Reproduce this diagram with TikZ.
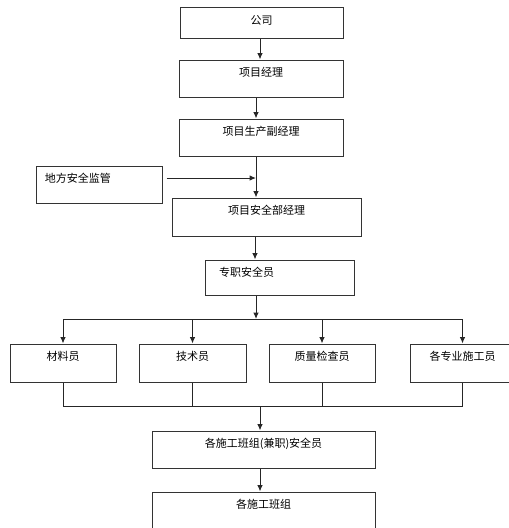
\documentclass[tikz,border=0pt]{standalone}
\usepackage{fontspec}
\setmainfont{Noto Sans CJK SC}
\usetikzlibrary{arrows.meta,calc}
\tikzset{
    unit/.style={draw=black!80, line width=1pt, inner sep=0pt, text height=16pt, text depth=21pt, font=\fontsize{11}{13}\selectfont},
    leftunit/.style={unit, align=left},
}
\begin{document}
\begin{tikzpicture}[x=1pt, y=-1pt, >={Latex[length=6.5pt,width=5.5pt]}, line width=1pt, draw=black!85]
            \useasboundingbox (0,0) rectangle (509,528);
            \node[unit, minimum width=163pt, text height=17pt, text depth=14pt] (company) at (261.5,22.5) {公司};
            \node[unit, minimum width=164pt] (pm) at (261,78.5) {项目经理};
            \node[unit, minimum width=164pt] (dpm) at (261,137.5) {项目生产副经理};
            \node[leftunit, inner xsep=9pt, text width=108pt] (local) at (99,184.5) {地方安全监管};
            \node[unit, minimum width=189pt, text depth=22pt] (safemgr) at (266.5,217) {项目安全部经理};
            \node[leftunit, inner xsep=14pt, text width=121pt, text depth=19pt] (officer) at (279.5,277.5) {专职安全员};
            \node[unit, minimum width=106pt, text depth=22pt] (mat) at (63,363) {材料员};
            \node[unit, minimum width=107pt, text depth=22pt] (tech) at (192.5,363) {技术员};
            \node[unit, minimum width=106pt, text depth=22pt] (qc) at (322,363) {质量检查员};
            \node[unit, minimum width=105pt, text depth=22pt] (trade) at (462.5,363) {各专业施工员};
            \node[unit, minimum width=223pt] (crewsafe) at (263.5,449.5) {各施工班组(兼职)安全员};
            \node[unit, minimum width=223pt] (crew) at (263.5,510.5) {各施工班组};

            \coordinate (merge) at (256,178);
            \coordinate (fork) at (256,319);
            \coordinate (gather) at (260,406);

            \draw[->] (company.south -| 260,0) to (pm.north -| 260,0);
            \draw[->] (pm.south -| 256,0) to (dpm.north -| 256,0);
            \draw[->] (dpm.south -| merge) to (safemgr.north -| merge);
            \draw[->] ($(local.east |- merge)+(4,0)$) to (merge);
            \draw[->] (safemgr.south -| 255,0) to (officer.north -| 255,0);
            \draw[->] (officer.south -| fork) to (fork);
            \draw (fork -| mat) to (fork -| trade);
            \draw[->] (fork -| mat) to (mat);
            \draw[->] (fork -| tech) to (tech);
            \draw[->] (fork -| qc) to (qc);
            \draw[->] (fork -| trade) to (trade);
            \draw (mat) -- (mat |- gather) -- (trade |- gather) -- (trade);
            \draw (tech) to (tech |- gather);
            \draw (qc) to (qc |- gather);
            \draw[->] (gather) to (gather |- crewsafe.north);
            \draw[->] (crewsafe.south -| gather) to (crew.north -| gather);
        \end{tikzpicture}
\end{document}
